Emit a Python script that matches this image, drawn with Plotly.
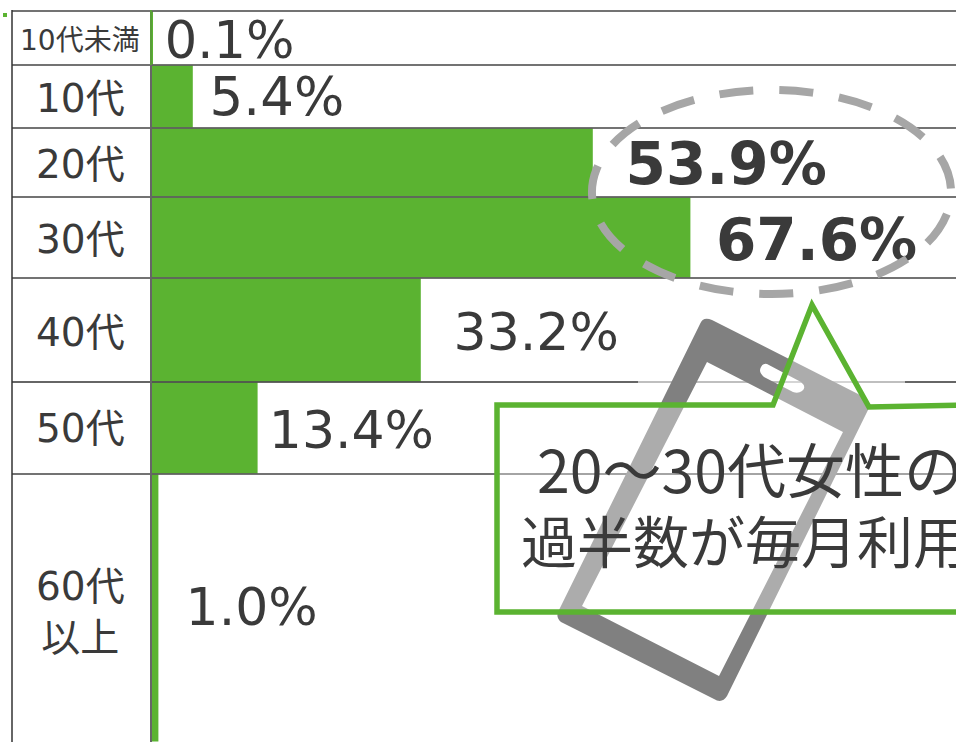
import math
import plotly.graph_objects as go

categories = ["10代未満", "10代", "20代", "30代", "40代", "50代", "60代<br>以上"]
value_labels = ["0.1%", "5.4%", "53.9%", "67.6%", "33.2%", "13.4%", "1.0%"]
bar_lengths = [0.12, 5.1, 55.1, 67.3, 33.6, 13.2, 0.8]
label_x = [1.6, 7.2, 59.2, 70.5, 37.7, 14.6, 4.2]
label_bold = [False, False, True, True, False, False, False]
label_sizes = [51, 53, 58, 58, 52, 52, 52]
label_nudges = [7, 5, 7, 8, 7, 7, 4]
row_edges = [11, 65, 128, 197, 278, 382, 474, 742]
category_sizes = [28, 39, 39, 39, 39, 39, 39]
category_nudges = [2, 2, 2, 2, 2, 0, 4]
callout_lines = ["20～30代女性の", "過半数が毎月利用"]
callout_sizes = [59, 56]

W, H = 956, 742
X0, PX = 152, 8.0
GREEN = "#5BB331"
TEXT = "#3A3A3A"
FONT = "DejaVu Sans, Noto Sans CJK JP, sans-serif"


def ux(px):
    return (px - X0) / PX


def pt(px, py):
    return f"{ux(px)},{py}"


def poly(points):
    return "M" + " L".join(pt(a, b) for a, b in points) + " Z"


centers = [(row_edges[i] + row_edges[i + 1]) / 2 for i in range(len(categories))]
heights = [row_edges[i + 1] - row_edges[i] - 1 for i in range(len(categories))]

fig = go.Figure()
fig.add_trace(go.Bar(
    y=centers, x=bar_lengths, width=heights, orientation="h",
    marker=dict(color=GREEN, line=dict(width=0)), hoverinfo="skip",
))
fig.add_trace(go.Scatter(
    x=label_x, y=[c + d for c, d in zip(centers, label_nudges)], mode="text",
    text=[f"<b>{t}</b>" if b else t for t, b in zip(value_labels, label_bold)],
    textposition="middle right", cliponaxis=False, hoverinfo="skip",
    textfont=dict(family=FONT, color=TEXT, size=label_sizes),
))

shapes = []
grid = "#444444"
for y in row_edges[:-1]:
    if y == 382:
        continue
    shapes.append(dict(type="line", xref="x", yref="y", x0=ux(12), x1=ux(W), y0=y, y1=y,
                       line=dict(color=grid, width=1.5)))
for a, b, c in [(12, 638, "#333333"), (638, 905, "#AAAAAA"), (905, W, "#333333")]:
    shapes.append(dict(type="line", xref="x", yref="y", x0=ux(a), x1=ux(b), y0=382, y1=382,
                       line=dict(color=c, width=1.5)))
shapes.append(dict(type="line", xref="x", yref="y", x0=ux(12), x1=ux(12), y0=10, y1=H,
                   line=dict(color="#333333", width=1.5)))
shapes.append(dict(type="line", xref="x", yref="y", x0=ux(151), x1=ux(151), y0=65, y1=H,
                   line=dict(color="#666666", width=2)))
shapes.append(dict(type="line", xref="x", yref="y", x0=ux(151), x1=ux(151), y0=10, y1=65,
                   line=dict(color="#5A9E3A", width=2)))
shapes.append(dict(type="rect", xref="x", yref="y", x0=ux(3), x1=ux(7), y0=13, y1=17,
                   fillcolor=GREEN, line=dict(width=0)))

screen = [(707, 362), (843, 432), (719, 676), (582, 606)]
phone = (
    f"M{pt(700, 324)} Q{pt(703, 316)} {pt(712, 320)} L{pt(864, 397)} Q{pt(872, 402)} {pt(868, 410)} "
    f"L{pt(727, 696)} Q{pt(722, 704)} {pt(714, 699)} L{pt(561, 622)} Q{pt(555, 617)} {pt(559, 610)} Z "
    + poly(screen)
    + f" M{pt(767, 364)} L{pt(801, 382)} Q{pt(807, 387)} {pt(802, 391)} Q{pt(798, 394)} {pt(793, 392)}"
    f" L{pt(764, 377)} Q{pt(758, 372)} {pt(761, 367)} Q{pt(763, 363)} {pt(767, 364)} Z"
)
shapes.append(dict(type="path", xref="x", yref="y", path=phone, fillcolor="#808080",
                   fillrule="evenodd", line=dict(width=0)))

callout = [(497, 405), (773, 405), (812, 305), (869, 407), (970, 405), (970, 612), (497, 612)]
shapes.append(dict(type="path", xref="x", yref="y", path=poly(callout),
                   fillcolor="rgba(255,255,255,0.35)", line=dict(color=GREEN, width=5.5)))

# dashed ellipse as four Bezier arcs, started where the reference's dash pattern starts
cx, cy, rx, ry = 771.5, 192, 179.5, 102
k = 0.5523
start = math.radians(13)
path = ""
for i in range(4):
    t0 = start + i * math.pi / 2
    t1 = t0 + math.pi / 2
    p0 = (cx + rx * math.cos(t0), cy + ry * math.sin(t0))
    p1 = (cx + rx * math.cos(t1), cy + ry * math.sin(t1))
    d0 = (-rx * math.sin(t0), ry * math.cos(t0))
    d1 = (-rx * math.sin(t1), ry * math.cos(t1))
    if i == 0:
        path = f"M{pt(*p0)}"
    path += (f" C{pt(p0[0] + k * d0[0], p0[1] + k * d0[1])}"
             f" {pt(p1[0] - k * d1[0], p1[1] - k * d1[1])} {pt(*p1)}")
shapes.append(dict(type="path", xref="x", yref="y", path=path,
                   fillcolor="rgba(0,0,0,0)", line=dict(color="#A6A6A6", width=8, dash="34px,26px")))

annotations = []
for cat, c, s, d in zip(categories, centers, category_sizes, category_nudges):
    annotations.append(dict(x=ux(80), y=c + d, xref="x", yref="y", text=cat, showarrow=False,
                            xanchor="center", yanchor="middle",
                            font=dict(family=FONT, size=s, color=TEXT)))
for line, px, py, s in zip(callout_lines, [535, 519], [467, 538], callout_sizes):
    annotations.append(dict(x=ux(px), y=py, xref="x", yref="y", text=line, showarrow=False,
                            xanchor="left", yanchor="middle",
                            font=dict(family="Noto Sans CJK JP, sans-serif", size=s, color=TEXT)))

fig.update_layout(
    width=W, height=H, margin=dict(l=0, r=0, t=0, b=0),
    paper_bgcolor="white", plot_bgcolor="white", showlegend=False,
    xaxis=dict(range=[ux(0), ux(W)], visible=False, fixedrange=True),
    yaxis=dict(range=[H, 0], visible=False, fixedrange=True),
    shapes=shapes, annotations=annotations,
)
fig.write_html("out.html", config={"displayModeBar": False},
               post_script="document.body.style.margin='0';document.body.style.overflow='hidden';")
